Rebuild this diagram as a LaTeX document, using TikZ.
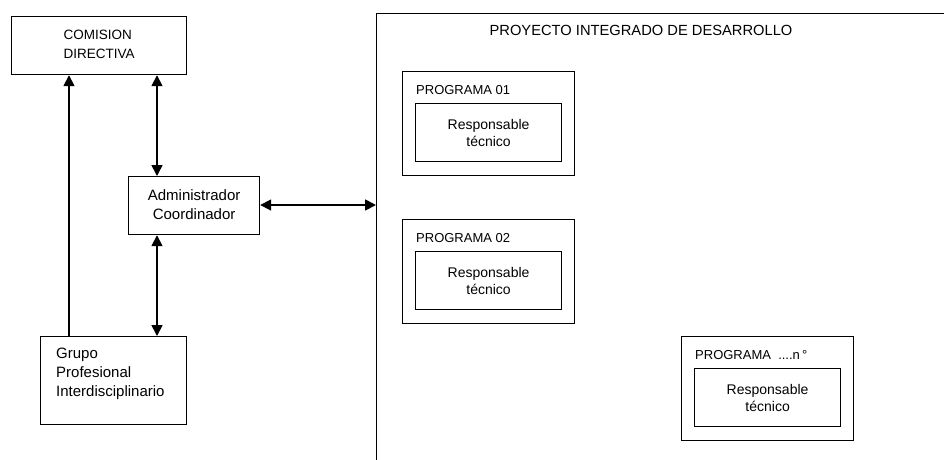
\documentclass[tikz,border=0pt]{standalone}
\usepackage{fontspec}
\setmainfont{Liberation Sans}
\usetikzlibrary{arrows.meta,positioning}
\begin{document}
\begin{tikzpicture}[x=1pt,y=-1pt,
  box/.style={draw,line width=1.2pt,inner sep=0pt},
  lbl/.style={inner sep=0pt,font=\fontsize{15}{19}\selectfont},
  caps/.style={inner sep=0pt,font=\fontsize{13}{19}\selectfont},
  conn/.style={line width=1.7pt,-{Triangle[length=11pt,width=11pt]}},
  dconn/.style={line width=1.7pt,{Triangle[length=11pt,width=11pt]}-{Triangle[length=11pt,width=11pt]}}]
\useasboundingbox (0,0) rectangle (944,459);
% left column
\node[box,minimum width=175pt,minimum height=58pt,anchor=north west] (cd) at (11,16) {};
\node[caps,font=\fontsize{13.5}{19}\selectfont,align=left] (cdt) at ([yshift=1.5pt]cd.center) {COMISION\\DIRECTIVA};
\node[box,minimum width=131pt,minimum height=58pt,anchor=north west] (adm) at (128,176) {};
\node[lbl,align=center] (admt) at ([yshift=1pt]adm.center) {Administrador\\Coordinador};
\node[box,minimum width=146pt,minimum height=88pt,anchor=north west] (gp) at (40,336) {};
\node[lbl,align=left,anchor=north west] (gpt) at ([xshift=16pt,yshift=-12pt]gp.north west) {Grupo\\Profesional\\Interdisciplinario};
% big project box (extends beyond the picture)
\node[box,minimum width=600pt,minimum height=480pt,anchor=north west] (pid) at (376,13) {};
\node[caps,font=\fontsize{14.7}{18}\selectfont] (pidt) at (641,30) {PROYECTO INTEGRADO DE DESARROLLO};
% programs
\foreach \n/\x/\y/\t in {p1/402/71/PROGRAMA 01, p2/402/219/PROGRAMA 02, pn/681/336/{PROGRAMA\ \ ....n\,°}}{
  \node[box,minimum width=172pt,minimum height=104pt,anchor=north west] (\n) at (\x,\y) {};
  \node[caps,anchor=west] (\n l) at ([xshift=14pt,yshift=-19pt]\n.north west) {\t};
  \node[box,minimum width=146pt,minimum height=58pt,anchor=north west,inner sep=0pt,align=center,font=\fontsize{14}{17}\selectfont] (\n r) at ([xshift=13pt,yshift=-32pt]\n.north west) {Responsable\\técnico};
}
% connectors
\draw[conn] ([xshift=29pt]gp.north west) -- ([xshift=58pt]cd.south west);
\draw[dconn] ([xshift=146pt]cd.south west) -- ([xshift=29pt]adm.north west);
\draw[dconn] ([xshift=29pt]adm.south west) -- ([xshift=117pt]gp.north west);
\draw[dconn] (adm.east |- 0,205) -- (pid.west |- 0,205);
\end{tikzpicture}
\end{document}
